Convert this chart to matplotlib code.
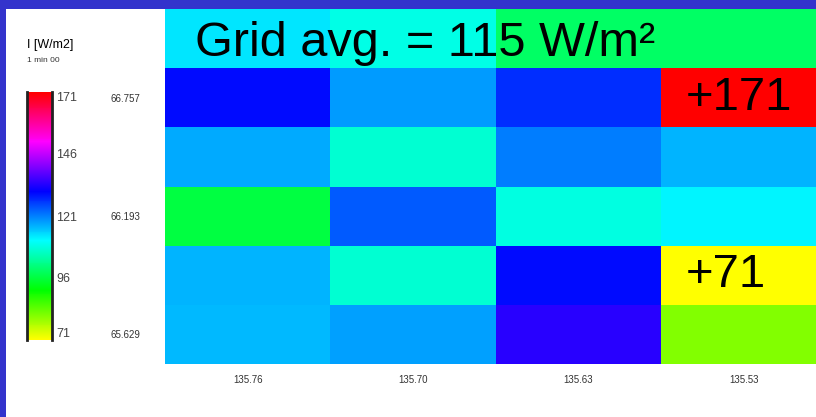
import numpy as np
from matplotlib import pyplot as plt
from matplotlib.colors import LinearSegmentedColormap
from matplotlib.patches import Rectangle

# cell values (W/m2), top row first
row_vals = [
    [113, 109, 99, 99],
    [130, 119, 127.5, 171],
    [117.5, 107.5, 121, 117],
    [96, 124, 108.5, 112],
    [117, 107.5, 130, 71],
    [116.5, 118.5, 134, 81],
]
x_labels = ['135.76', '135.70', '135.63', '135.53']
y_labels = ['66.757', '66.193', '65.629']
cbar_ticks = [71, 96, 121, 146, 171]
title = 'Grid avg. = 115 W/m²'

plt.rcParams['font.family'] = ['Liberation Sans', 'DejaVu Sans']

W, H = 816, 417
fig = plt.figure(figsize=(W / 100, H / 100), dpi=100, facecolor='#3333cc')
fig.patches.append(Rectangle((6 / W, 0), 1, (H - 9) / H, transform=fig.transFigure,
                             facecolor='white', edgecolor='none', zorder=-5))

cmap = LinearSegmentedColormap.from_list(
    'flux', ['#ffff00', '#00ff00', '#00ffff', '#0000ff', '#ff00ff', '#ff0000'])

# heatmap axes: x 165..816, y 9..364 px
ax = fig.add_axes([165 / W, (H - 364) / H, (816 - 165) / W, (364 - 9) / H])
data = np.array(row_vals)
mesh = ax.pcolormesh(np.arange(5), np.arange(7), data, cmap=cmap, vmin=71, vmax=171)
ax.set_xlim(0, 3.938)
ax.set_ylim(6, 0)
for s in ax.spines.values():
    s.set_visible(False)
ax.set_xticks(np.arange(4) + 0.5)
ax.set_xticklabels(x_labels, fontsize=7, color='#333333')
ax.set_yticks([1.5, 3.5, 5.5])
ax.set_yticklabels(y_labels, fontsize=7, color='#333333')
ax.tick_params(axis='x', length=0, pad=8)
ax.tick_params(axis='y', length=0, pad=18)

fig.text(195 / W, 1 - 56 / H, title, fontsize=35, ha='left', va='baseline')
ax.text(3.15, 1.5, '+171', fontsize=34, ha='left', va='center')
ax.text(3.15, 4.5, '+71', fontsize=34, ha='left', va='center')

# colorbar: x 27..52, y 92..340 px
cax = fig.add_axes([27 / W, (H - 340) / H, 25 / W, (340 - 92) / H])
cbar = fig.colorbar(mesh, cax=cax, ticks=cbar_ticks)
cbar.outline.set_visible(False)
cax.axvline(0, color='#222222', lw=2, clip_on=False)
cax.axvline(1, color='#222222', lw=2, clip_on=False)
cax.tick_params(length=0, pad=3, labelsize=9, labelcolor='#444444')
cax.get_yticklabels()[-1].set_va('top')
cax.get_yticklabels()[0].set_va('bottom')

fig.text(27 / W, 1 - 48 / H, 'I [W/m2]', fontsize=9, ha='left', va='baseline')
fig.text(27 / W, 1 - 62 / H, '1 min 00', fontsize=6, ha='left', va='baseline', color='#333333')

plt.savefig('out.png', dpi=100, facecolor=fig.get_facecolor())
